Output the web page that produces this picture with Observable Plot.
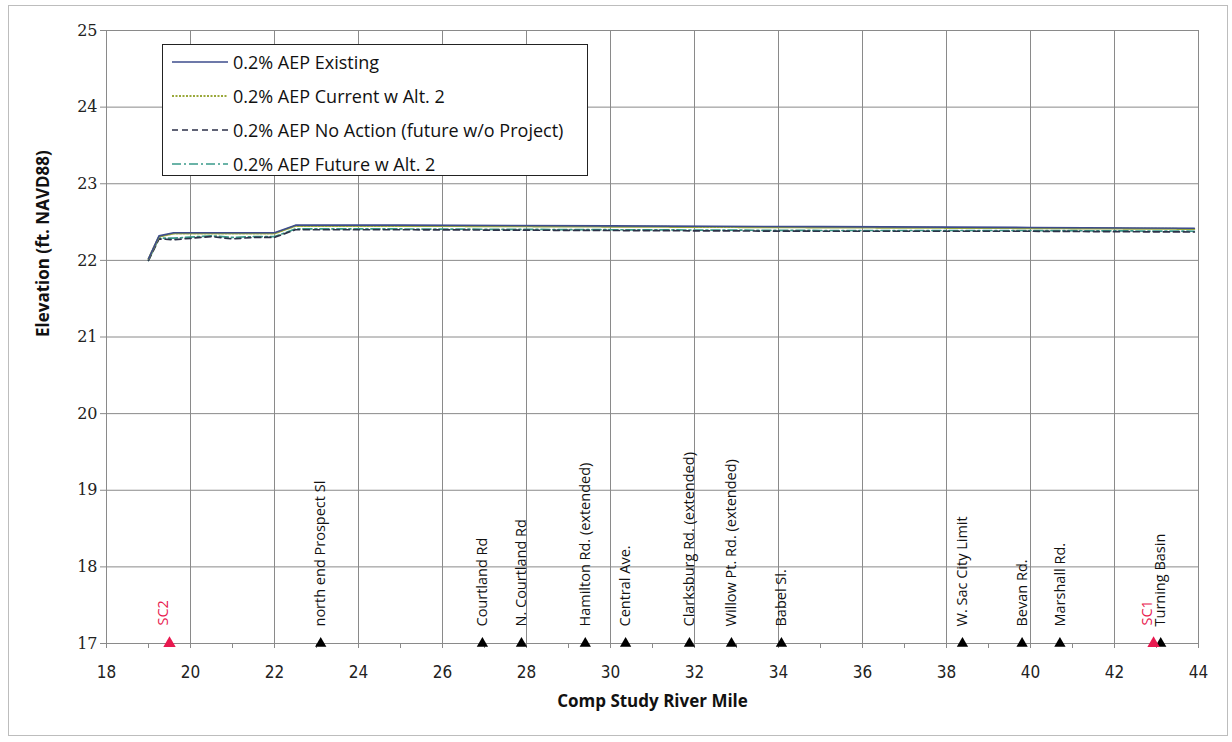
<!DOCTYPE html>
<html><head><meta charset="utf-8">
<script src="https://cdn.jsdelivr.net/npm/d3@7"></script>
<script src="https://cdn.jsdelivr.net/npm/@observablehq/plot@0.6"></script>
<style>
body{margin:0;background:#fff;}
#wrap{position:relative;width:1232px;height:742px;overflow:hidden;background:#fff;}
#frame{position:absolute;left:8px;top:5px;width:1220px;height:731px;border:1px solid #bdbdbd;box-sizing:border-box;pointer-events:none;}
#legend{position:absolute;left:162px;top:44px;height:132px;padding-right:24px;border:1px solid #222;background:#fff;box-sizing:border-box;font-family:"Open Sans",sans-serif;font-size:18px;color:#111;}
#legend .row{position:relative;height:34px;display:flex;align-items:center;white-space:nowrap;padding-left:9px;}
#legend svg{margin-right:5px;}
</style>
</head><body>
<div id="wrap"><div id="frame"></div></div>
<script>
// ---- data ----
const seriesNames = [
  "0.2% AEP Existing",
  "0.2% AEP Current w Alt. 2",
  "0.2% AEP No Action (future w/o Project)",
  "0.2% AEP Future w Alt. 2"
];
const mile     = [19.0, 19.25, 19.6, 20.5, 21.0, 21.5, 22.0, 22.5, 25.0, 30.0, 35.0, 40.0, 43.9];
const existing = [22.02, 22.32, 22.36, 22.36, 22.36, 22.36, 22.36, 22.46, 22.46, 22.45, 22.44, 22.43, 22.42];
const current  = [22.02, 22.31, 22.35, 22.35, 22.35, 22.35, 22.35, 22.45, 22.45, 22.44, 22.43, 22.42, 22.41];
const noAction = [22.00, 22.28, 22.27, 22.31, 22.28, 22.30, 22.30, 22.40, 22.40, 22.39, 22.38, 22.38, 22.37];
const future   = [22.00, 22.29, 22.29, 22.32, 22.30, 22.31, 22.31, 22.41, 22.41, 22.40, 22.39, 22.39, 22.38];

const landNames = ["north end Prospect Sl", "Courtland Rd", "N. Courtland Rd", "Hamilton Rd. (extended)",
  "Central Ave.", "Clarksburg Rd. (extended)", "Willow Pt. Rd. (extended)", "Babel Sl.",
  "W. Sac City Limit", "Bevan Rd.", "Marshall Rd.", "Turning Basin"];
const landMiles = [23.1, 26.95, 27.88, 29.4, 30.36, 31.88, 32.88, 34.07, 38.38, 39.8, 40.7, 43.1];
const scNames = ["SC2", "SC1"];
const scMiles = [19.5, 42.93];

const xTicks = d3.range(18, 45, 1);
const xGrid = d3.range(18, 45, 2);
const yTicks = d3.range(17, 26, 1);

// ---- styles ----
const styles = [
  {stroke: "#3d4c8c", strokeWidth: 1.6, dash: null},
  {stroke: "#9aa83a", strokeWidth: 2, dash: "2,1.5"},
  {stroke: "#2c3148", strokeWidth: 1.7, dash: "6,4"},
  {stroke: "#3a9a8a", strokeWidth: 1.7, dash: "9,3,2,3"}
];
const values = [existing, current, noAction, future];
const tables = values.map(v => mile.map((m, i) => ({mile: m, elev: v[i]})));
const lands = landNames.map((n, i) => ({name: n, mile: landMiles[i]}));
const scs = scNames.map((n, i) => ({name: n, mile: scMiles[i]}));

const lineMarks = tables.map((t, k) => Plot.line(t, {
  x: "mile", y: "elev", stroke: styles[k].stroke, strokeWidth: styles[k].strokeWidth,
  strokeDasharray: styles[k].dash || undefined
}));

const chart = Plot.plot({
  width: 1232, height: 742,
  marginLeft: 106, marginRight: 34, marginTop: 30, marginBottom: 99,
  style: {fontFamily: "Open Sans, sans-serif", fontSize: "16px", color: "#8a8a8a", background: "transparent"},
  x: {domain: [18, 44], ticks: xTicks, tickFormat: () => "", tickSize: 5, label: null},
  y: {domain: [17, 25], ticks: yTicks, tickFormat: () => "", tickSize: 6, label: null},
  marks: [
    Plot.ruleX(xGrid, {stroke: "#8a8a8a", strokeWidth: 1}),
    Plot.ruleY(yTicks, {stroke: "#8a8a8a", strokeWidth: 1}),
    ...lineMarks.slice().reverse(),
    Plot.dot(lands, {x: "mile", y: () => 17, symbol: "triangle", r: 4.2, fill: "#000"}),
    Plot.dot(scs, {x: "mile", y: () => 17, symbol: "triangle", r: 4.6, fill: "#e8194f"}),
    Plot.text(lands, {x: "mile", y: () => 17, text: "name", rotate: -90, textAnchor: "start", dy: -17,
      fontSize: 14.5, fill: "#111", fontFamily: "Open Sans, sans-serif"}),
    Plot.text(scs, {x: "mile", y: () => 17, text: "name", rotate: -90, textAnchor: "start", dy: -18,
      fontSize: 14.5, fill: "#e8194f", fontFamily: "Open Sans, sans-serif", dx: -6}),
    // tick labels
    Plot.text(xGrid, {x: d => d, y: () => 17, text: d => String(d), dy: 29, fontSize: 17,
      fill: "#222", fontFamily: "'Liberation Sans Narrow', 'DejaVu Sans Condensed', sans-serif"}),
    Plot.text(yTicks, {x: () => 18, y: d => d, text: d => String(d), dx: -9, textAnchor: "end", fontSize: 16,
      fill: "#222", fontFamily: "'DejaVu Serif', 'Liberation Serif', serif"}),
    // axis titles
    Plot.text(["Comp Study River Mile"], {frameAnchor: "bottom", dy: 63, fontWeight: "bold", fontSize: 17,
      fill: "#111", fontFamily: "Open Sans, sans-serif"}),
    Plot.text(["Elevation (ft. NAVD88)"], {frameAnchor: "left", dx: -63, rotate: -90, fontWeight: "bold", fontSize: 17,
      fill: "#111", fontFamily: "Open Sans, sans-serif"})
  ]
});
const wrap = document.getElementById("wrap");
wrap.insertBefore(chart, wrap.firstChild);

// legend
const legend = document.createElement("div");
legend.id = "legend";
seriesNames.forEach((name, k) => {
  const row = document.createElement("div");
  row.className = "row";
  const s = styles[k];
  row.innerHTML = `<svg width="56" height="20"><line x1="0" x2="56" y1="10" y2="10" stroke="${s.stroke}" stroke-width="${s.strokeWidth}" ${s.dash ? `stroke-dasharray="${s.dash}"` : ""}/></svg><span>${name}</span>`;
  legend.appendChild(row);
});
wrap.appendChild(legend);
</script>
</body></html>
